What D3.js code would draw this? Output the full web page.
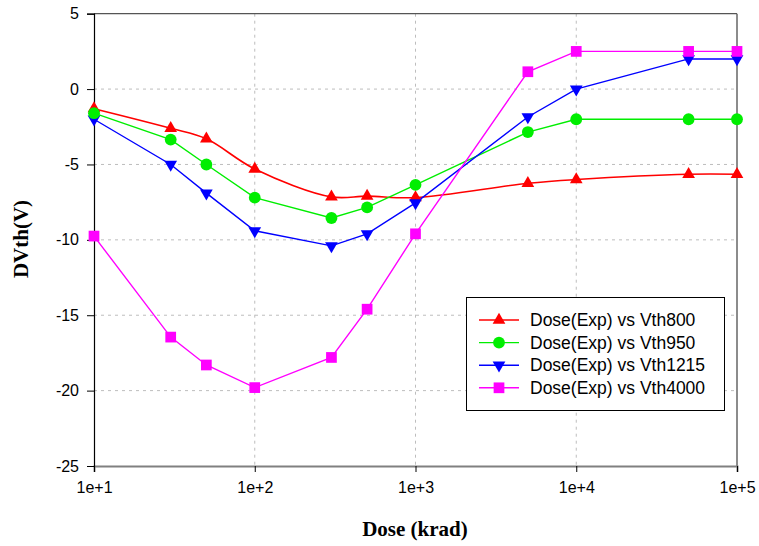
<!DOCTYPE html>
<html>
<head>
<meta charset="utf-8">
<script src="https://cdn.jsdelivr.net/npm/d3@7"></script>
<style>
  html, body { margin: 0; padding: 0; background: #fff; }
  svg { display: block; }
</style>
</head>
<body>
<svg id="chart" width="759" height="546"></svg>
<script>
const doses = [10, 30, 50, 100, 300, 500, 1000, 5000, 10000, 50000, 100000];
const vth800  = [-1.3, -2.6, -3.3, -5.3, -7.15, -7.1, -7.2, -6.25, -6.0, -5.65, -5.65];
const vth950  = [-1.6, -3.35, -5.0, -7.2, -8.55, -7.85, -6.35, -2.85, -2.0, -2.0, -2.0];
const vth1215 = [-2.0, -5.0, -6.9, -9.4, -10.4, -9.6, -7.55, -1.85, 0.0, 2.0, 2.0];
const vth4000 = [-9.75, -16.45, -18.3, -19.8, -17.8, -14.6, -9.6, 1.15, 2.5, 2.5, 2.5];
const seriesNames = ["Dose(Exp) vs Vth800", "Dose(Exp) vs Vth950", "Dose(Exp) vs Vth1215", "Dose(Exp) vs Vth4000"];
const xTicks = [10, 100, 1000, 10000, 100000];
const yTicks = [5, 0, -5, -10, -15, -20, -25];
const xTitle = "Dose (krad)";
const yTitle = "DVth(V)";

const series = [
  {name: seriesNames[0], values: vth800,  color: "#ff0000", shape: "up",     smooth: true},
  {name: seriesNames[1], values: vth950,  color: "#00ee00", shape: "circle", smooth: false},
  {name: seriesNames[2], values: vth1215, color: "#0000ff", shape: "down",   smooth: false},
  {name: seriesNames[3], values: vth4000, color: "#ff00ff", shape: "square", smooth: false}
];

const svg = d3.select("#chart");
const L = 94, R = 737, T = 13.7, B = 466;
const x = d3.scaleLog().domain([10, 100000]).range([L, R]);
const y = d3.scaleLinear().domain([-25, 5]).range([B, T]);

// grid
const grid = svg.append("g");
grid.selectAll("line.h").data(yTicks.filter(v => v !== 5 && v !== -25)).enter().append("line")
  .attr("x1", L).attr("x2", R).attr("y1", d => y(d)).attr("y2", d => y(d))
  .attr("stroke", "#bdbdbd").attr("stroke-dasharray", "3,4").attr("stroke-width", 1);
grid.selectAll("line.v").data(xTicks.filter(v => v !== 10 && v !== 100000)).enter().append("line")
  .attr("y1", T).attr("y2", B).attr("x1", d => x(d)).attr("x2", d => x(d))
  .attr("stroke", "#bdbdbd").attr("stroke-dasharray", "3,4").attr("stroke-width", 1);

// frame top/right
svg.append("line").attr("x1", L).attr("x2", R).attr("y1", T).attr("y2", T).attr("stroke", "#555").attr("stroke-width", 1.2);
svg.append("line").attr("x1", R).attr("x2", R).attr("y1", T).attr("y2", B).attr("stroke", "#666").attr("stroke-width", 1.5);

// axes
const fmt = d => "1e+" + Math.round(Math.log10(d));
const xAxis = svg.append("g").attr("transform", `translate(0,${B})`)
  .call(d3.axisBottom(x).tickValues(xTicks).tickFormat(fmt).tickSize(6).tickPadding(10));
xAxis.select(".domain").attr("stroke", "#808080").attr("stroke-width", 2);
xAxis.selectAll(".tick line").attr("stroke", "#000");
xAxis.selectAll("text").attr("font-family", "Liberation Sans, Arial, sans-serif").attr("font-size", 16).attr("fill", "#000");

const yAxis = svg.append("g").attr("transform", `translate(${L},0)`)
  .call(d3.axisLeft(y).tickValues(yTicks).tickFormat(d => String(d)).tickSize(7).tickPadding(8));
yAxis.select(".domain").attr("stroke", "#000").attr("stroke-width", 1.2);
yAxis.selectAll(".tick line").attr("stroke", "#000");
yAxis.selectAll("text").attr("font-family", "Liberation Sans, Arial, sans-serif").attr("font-size", 16).attr("fill", "#000");

// titles
svg.append("text").attr("x", 415).attr("y", 536).attr("text-anchor", "middle")
  .attr("font-family", "Liberation Serif, Times New Roman, serif").attr("font-weight", "bold").attr("font-size", 21)
  .text(xTitle);
svg.append("text").attr("transform", "translate(28,239) rotate(-90)").attr("text-anchor", "middle")
  .attr("font-family", "Liberation Serif, Times New Roman, serif").attr("font-weight", "bold").attr("font-size", 21)
  .text(yTitle);

// markers
function symbolPath(shape) {
  if (shape === "up" || shape === "down") return d3.symbol().type(d3.symbolTriangle).size(70)();
  if (shape === "circle") return d3.symbol().type(d3.symbolCircle).size(110)();
  return d3.symbol().type(d3.symbolSquare).size(115)();
}
function drawMarker(g, shape, cx, cy, color) {
  g.append("path").attr("d", symbolPath(shape))
    .attr("transform", `translate(${cx},${cy})` + (shape === "down" ? " rotate(180)" : ""))
    .attr("fill", color);
}

// lines
series.forEach(s => {
  const line = d3.line().x((d, i) => x(doses[i])).y(d => y(d))
    .curve(s.smooth ? d3.curveCatmullRom.alpha(0.5) : d3.curveLinear);
  svg.append("path").datum(s.values).attr("d", line).attr("fill", "none")
    .attr("stroke", s.color).attr("stroke-width", s.smooth ? 1.6 : 1.4);
});
[0, 2, 1, 3].forEach(k => {
  const s = series[k];
  const g = svg.append("g");
  s.values.forEach((v, i) => drawMarker(g, s.shape, x(doses[i]), y(v), s.color));
});

// legend
const lg = svg.append("g");
lg.append("rect").attr("x", 466.5).attr("y", 297.5).attr("width", 258).attr("height", 113)
  .attr("fill", "#fff").attr("stroke", "#000").attr("stroke-width", 1);
series.forEach((s, i) => {
  const yy = 320 + i * 22.6;
  lg.append("line").attr("x1", 479).attr("x2", 519).attr("y1", yy).attr("y2", yy)
    .attr("stroke", s.color).attr("stroke-width", 1.4);
  drawMarker(lg, s.shape, 499, yy, s.color);
  lg.append("text").attr("x", 530).attr("y", yy + 6).attr("font-family", "Liberation Sans, Arial, sans-serif")
    .attr("font-size", 17.5).attr("fill", "#000").text(s.name);
});
</script>
</body>
</html>
